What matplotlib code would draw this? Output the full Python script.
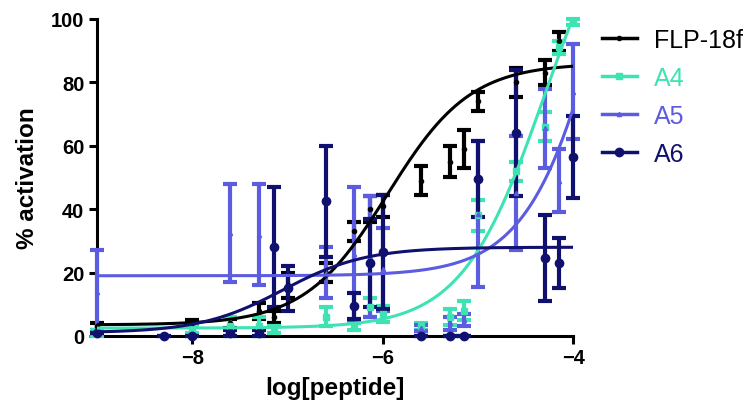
import numpy as np
import matplotlib
matplotlib.use('Agg')
import matplotlib.pyplot as plt

plt.rcParams['font.family'] = ['Liberation Sans', 'DejaVu Sans']

# data: log concentration, mean, error (SEM)
flp_x = [-9, -8, -7.6, -7.3, -7.14, -7, -6.6, -6.3, -6.14, -6, -5.6, -5.3, -5.15, -5, -4.6, -4.3, -4.15]
flp_y = [3, 4, 4, 8, 6, 16, 20, 33, 40, 41, 49, 55, 59, 74, 80, 83, 93]
flp_e = [1, 1, 1.5, 2.5, 2, 4, 3, 3, 4, 3.5, 4.5, 5, 6, 3, 4.5, 4, 3]

a4_x = [-9, -8, -7.6, -7.3, -7.14, -6.6, -6.3, -6.14, -6, -5.6, -5.3, -5.15, -5, -4.6, -4.3, -4.15, -4]
a4_y = [1, 2, 3, 3, 2, 6, 3, 9, 7, 3, 6, 8, 38, 52, 66, 91, 99]
a4_e = [1, 1, 3, 3, 1, 3, 1, 3, 2.5, 1, 2.5, 3, 5, 3, 4.5, 2, 1]

a5_x = [-9, -7.6, -7.3, -6.6, -6.3, -6.14, -6, -5.6, -5.3, -5.15, -5, -4.6, -4.3, -4.15, -4]
a5_y = [14, 32.5, 32, 20, 26, 25, 21, 2.5, 4, 5, 38.5, 45, 65.5, 49, 77]
a5_e = [13, 15.5, 16, 8, 21, 19, 13, 1, 2, 2, 23, 18, 12.5, 10, 15]

a6_x = [-9, -8.3, -8, -7.6, -7.3, -7.14, -7, -6.6, -6.3, -6.14, -6, -5.6, -5.3, -5.15, -5, -4.6, -4.3, -4.15, -4]
a6_y = [1, 0, 0, 1, 1, 28, 15, 42.5, 9.5, 23, 26.5, 0, 0, 0, 49.5, 64, 24.5, 23, 56.5]
a6_e = [0, 0, 0, 1, 1, 19, 7, 17.5, 4, 14, 18, 0, 0, 0, 12, 20, 13.5, 8, 13]

# fitted curves: bottom, top, logEC50, hill
flp_fit = [3.5, 86, -5.95, 1.0]
a4_fit = [2.5, 150, -4.3, 1.0]
a5_fit = [19, 240, -3.5, 1.0]
a6_fit = [1, 28, -7.05, 1.0]

labels = ['FLP-18f', 'A4', 'A5', 'A6']
colors = ['#000000', '#3EE3B3', '#5C5CE0', '#10106E']
markers = ['o', 's', '^', 'o']
msizes = [3, 4, 3, 6]


def curve(x, p):
    return p[0] + (p[1] - p[0]) / (1 + 10 ** ((p[2] - x) * p[3]))


fig = plt.figure(figsize=(7.54, 4.14), dpi=100)
ax = fig.add_axes([0.1286, 0.186, 0.632, 0.766])

series = [(flp_x, flp_y, flp_e, flp_fit), (a4_x, a4_y, a4_e, a4_fit),
          (a5_x, a5_y, a5_e, a5_fit), (a6_x, a6_y, a6_e, a6_fit)]

xx = np.linspace(-9, -4, 300)
handles = []
for (x, y, e, p), lab, c, m, ms in zip(series, labels, colors, markers, msizes):
    ax.errorbar(x, y, yerr=e, fmt=m, color=c, ms=ms, elinewidth=3, capsize=5,
                capthick=3, clip_on=False, zorder=3)
    ax.plot(xx, curve(xx, p), color=c, lw=2.2, zorder=4)
    h, = ax.plot([], [], color=c, marker=m, ms=ms, lw=2.5)
    handles.append(h)

ax.set_xlim(-9, -4)
ax.set_ylim(0, 100)
ax.set_xticks([-8, -6, -4])
ax.set_yticks([0, 20, 40, 60, 80, 100])
for s in ['top', 'right']:
    ax.spines[s].set_visible(False)
for s in ['left', 'bottom']:
    ax.spines[s].set_linewidth(2.2)
ax.tick_params(width=2.2, length=6, labelsize=14.5, pad=3)
for t in ax.get_xticklabels() + ax.get_yticklabels():
    t.set_fontweight('bold')
ax.set_xlabel('log[peptide]', fontsize=17.5, fontweight='bold', labelpad=6)
ax.set_ylabel('% activation', fontsize=17.5, fontweight='bold', labelpad=9)

leg = fig.legend(handles, labels, loc='upper left', bbox_to_anchor=(0.785, 0.955),
                 frameon=False, fontsize=18, handlelength=1.4, handletextpad=0.7,
                 labelspacing=0.56, borderaxespad=0)
for t, c in zip(leg.get_texts(), colors):
    t.set_color(c)

fig.savefig('out.png', dpi=100)
